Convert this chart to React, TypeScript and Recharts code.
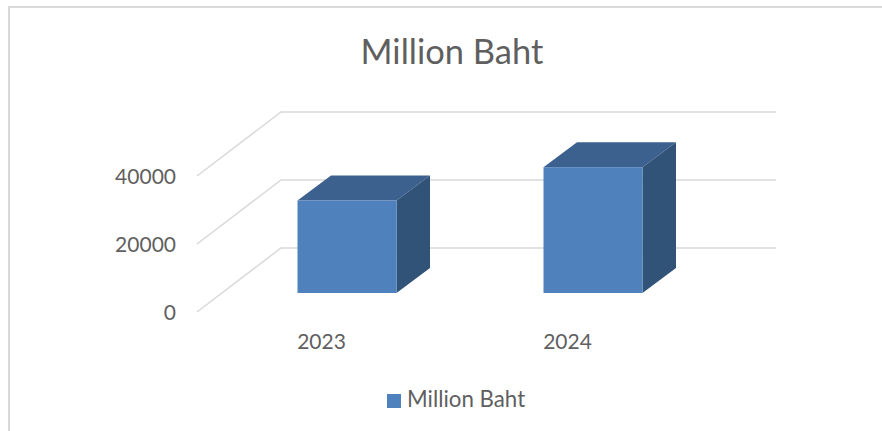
/**
 * Million Baht by year: column chart with an extruded, box-style look.
 * Recharts has no 3D series, so the grid lines and bars use custom renderers
 * that add the receding floor and wall on top of the normal scales.
 */

import { Bar, BarChart, CartesianGrid, Legend, XAxis, YAxis } from "recharts";

const years = ["2023", "2024"];
const millionBaht = [27200, 37000];
const valueTicks = [0, 20000, 40000];

const rows = years.map((year, i) => ({ year, value: millionBaht[i] }));

const TEXT = "#5f5f5f";
const GRID = "#d9d9d9";
const FONT = "Lato, sans-serif";

// how far the back wall sits from the front plane of the plot
const WALL_DX = 84;
const WALL_DY = -64;
// where the bar's front face sits between front plane and wall
const BAR_DX = 25;
const BAR_DY = -19;
// extrusion of the box itself
const BOX_DX = 33.5;
const BOX_DY = -25;

interface GridLineProps {
  x1: number;
  y1: number;
  x2: number;
}

function WallGridLine({ x1, y1, x2 }: GridLineProps): React.JSX.Element {
  const bx = x1 + WALL_DX;
  const by = y1 + WALL_DY;
  return (
    <polyline
      points={`${x1},${y1} ${bx},${by} ${x2 + WALL_DX},${by}`}
      fill="none"
      stroke={GRID}
      strokeWidth={1.5}
    />
  );
}

interface BoxProps {
  x: number;
  y: number;
  width: number;
  height: number;
}

function BoxBar({ x, y, width, height }: BoxProps): React.JSX.Element {
  const left = x + BAR_DX;
  const right = left + width;
  const top = y + BAR_DY;
  const bottom = top + height;
  return (
    <g>
      <polygon
        points={`${left},${top} ${left + BOX_DX},${top + BOX_DY} ${right + BOX_DX},${top + BOX_DY} ${right},${top}`}
        fill="#3d618f"
      />
      <polygon
        points={`${right},${top} ${right + BOX_DX},${top + BOX_DY} ${right + BOX_DX},${bottom + BOX_DY} ${right},${bottom}`}
        fill="#315378"
      />
      <rect x={left} y={top} width={width} height={height} fill="#4f81bd" />
    </g>
  );
}

export default function App(): React.JSX.Element {
  return (
    <div
      style={{
        position: "absolute",
        left: 0,
        top: 0,
        width: 882,
        height: 431,
        background: "#ffffff",
        overflow: "hidden",
      }}
    >
      <div
        style={{
          position: "absolute",
          left: 8,
          top: 6,
          width: 874,
          height: 425,
          boxSizing: "border-box",
          borderLeft: `2px solid ${GRID}`,
          borderTop: `2px solid ${GRID}`,
        }}
      />
      <div style={{ position: "absolute", left: 0, top: 0 }}>
        <BarChart
          width={882}
          height={431}
          data={rows}
          margin={{ top: 148, right: 190, bottom: 79, left: 117 }}
          style={{ fontFamily: FONT }}
        >
          <text x={452} y={64} textAnchor="middle" fontSize={34.5} fill={TEXT} fontFamily={FONT}>
            Million Baht
          </text>
          <CartesianGrid vertical={false} horizontal={(p: GridLineProps) => <WallGridLine {...p} />} />
          <XAxis
            dataKey="year"
            height={40}
            padding={{ left: 1.5, right: 1.5 }}
            axisLine={false}
            tickLine={false}
            tickSize={0}
            tickMargin={22}
            tick={{ fontSize: 21, fill: TEXT }}
          />
          <YAxis
            width={80}
            domain={[0, 40000]}
            ticks={valueTicks}
            axisLine={false}
            tickLine={false}
            tickSize={0}
            tickMargin={21}
            tick={{ fontSize: 21, fill: TEXT, dy: 1 }}
          />
          <Legend
            layout="horizontal"
            align="left"
            verticalAlign="top"
            iconType="square"
            iconSize={14}
            wrapperStyle={{ left: 387, top: 385, width: 200, height: 28, fontSize: 22.3 }}
            formatter={(label: string) => <span style={{ color: TEXT, marginLeft: 2 }}>{label}</span>}
          />
          <Bar
            dataKey="value"
            name="Million Baht"
            fill="#4f81bd"
            barSize={99}
            shape={(p: BoxProps) => <BoxBar {...p} />}
            isAnimationActive={false}
          />
        </BarChart>
      </div>
    </div>
  );
}
